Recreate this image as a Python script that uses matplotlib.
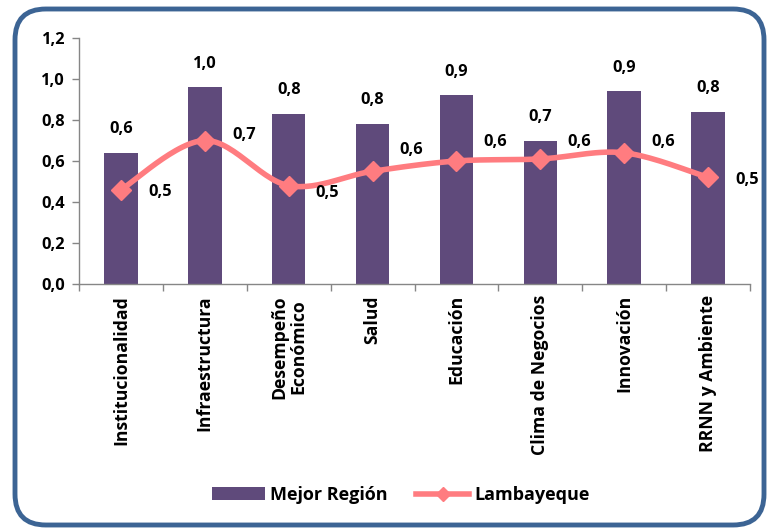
import numpy as np
import matplotlib
matplotlib.use("Agg")
import matplotlib.pyplot as plt
from matplotlib.patches import FancyBboxPatch
from matplotlib.lines import Line2D
from matplotlib.patches import Patch

categories = ["Institucionalidad", "Infraestructura", "Desempeño\nEconómico", "Salud",
              "Educación", "Clima de Negocios", "Innovación", "RRNN y Ambiente"]
mejor = [0.64, 0.96, 0.83, 0.78, 0.92, 0.70, 0.94, 0.84]
lamba = [0.46, 0.70, 0.48, 0.55, 0.60, 0.61, 0.64, 0.52]
yticks = [0.0, 0.2, 0.4, 0.6, 0.8, 1.0, 1.2]
# vertical nudges (points) for line labels, as placed in the original
line_label_dy = [-1.5, 4, -5, 15, 14, 12, 8, -2]

plt.rcParams['font.family'] = ['Open Sans', 'DejaVu Sans']
plt.rcParams['font.weight'] = 'bold'
FS = 11.8
FS_CAT = 12.7
FS_LEG = 13

BAR = '#5f4a7b'
LINE = '#ff7c80'
GRAY = '#868686'

fig = plt.figure(figsize=(7.71, 5.30), dpi=100)
border = FancyBboxPatch((15/771, 5/530), (764-15)/771, (521-5)/530,
                        boxstyle="round,pad=0,rounding_size=0.04",
                        transform=fig.transFigure, fill=False,
                        edgecolor='#3c6494', linewidth=3.5, mutation_aspect=771/530)
fig.patches.append(border)

ax = fig.add_axes([79/771, (530-284)/530, (750-79)/771, (284-38)/530])
x = np.arange(len(categories))
ax.bar(x, mejor, width=0.4, color=BAR, zorder=2)

# smooth line (Catmull-Rom)
xs, ys = [], []
px = np.array(x, dtype=float)
py = np.array(lamba, dtype=float)
n = len(px)
for i in range(n - 1):
    p0 = np.array([px[max(i-1, 0)], py[max(i-1, 0)]])
    p1 = np.array([px[i], py[i]])
    p2 = np.array([px[i+1], py[i+1]])
    p3 = np.array([px[min(i+2, n-1)], py[min(i+2, n-1)]])
    t = np.linspace(0, 1, 30)[:, None]
    c1 = p1 + (p2 - p0) / 6
    c2 = p2 - (p3 - p1) / 6
    pts = (1-t)**3*p1 + 3*(1-t)**2*t*c1 + 3*(1-t)*t**2*c2 + t**3*p2
    xs.extend(pts[:, 0]); ys.extend(pts[:, 1])
ax.plot(xs, ys, color=LINE, linewidth=4, zorder=3, solid_capstyle='round')
ax.plot(x, lamba, linestyle='none', marker='D', markersize=10, color=LINE, zorder=4)

for xi, v in zip(x, mejor):
    ax.annotate(f"{v:.1f}".replace('.', ','), (xi, v), xytext=(0, 17),
                textcoords='offset points', ha='center', va='center',
                fontsize=FS, fontweight='bold')
for xi, v, dy in zip(x, lamba, line_label_dy):
    ax.annotate(f"{v:.1f}".replace('.', ','), (xi, v), xytext=(28, dy),
                textcoords='offset points', ha='center', va='center',
                fontsize=FS, fontweight='bold')

ax.set_ylim(0, 1.2)
ax.set_xlim(-0.5, len(categories) - 0.5)
ax.set_yticks(yticks)
ax.set_yticklabels([f"{t:.1f}".replace('.', ',') for t in yticks], fontsize=FS, fontweight='bold')
ax.set_xticks(x)
ax.set_xticklabels(categories, rotation=90, fontsize=FS_CAT, fontweight='bold',
                   ha='center', va='top', multialignment='center', linespacing=1.1)
ax.set_xticks(np.arange(-0.5, len(categories)), minor=True)
ax.tick_params(axis='x', which='major', length=0, pad=8)
ax.tick_params(axis='x', which='minor', length=5, color=GRAY, width=1)
ax.tick_params(axis='y', length=5, color=GRAY, width=1, pad=5)
for s in ['top', 'right']:
    ax.spines[s].set_visible(False)
for s in ['left', 'bottom']:
    ax.spines[s].set_color(GRAY)
    ax.spines[s].set_linewidth(1)

handles = [Patch(facecolor=BAR, label='Mejor Región'),
           Line2D([0], [0], color=LINE, lw=4, marker='D', markersize=7, label='Lambayeque')]
fig.legend(handles=handles, loc='center', bbox_to_anchor=(0.52, 0.066), ncol=2,
           frameon=False, prop={'weight': 'bold', 'size': FS_LEG}, handlelength=2.9,
           handleheight=0.7, columnspacing=1.6, handletextpad=0.3)

fig.savefig("out.png", dpi=100)
